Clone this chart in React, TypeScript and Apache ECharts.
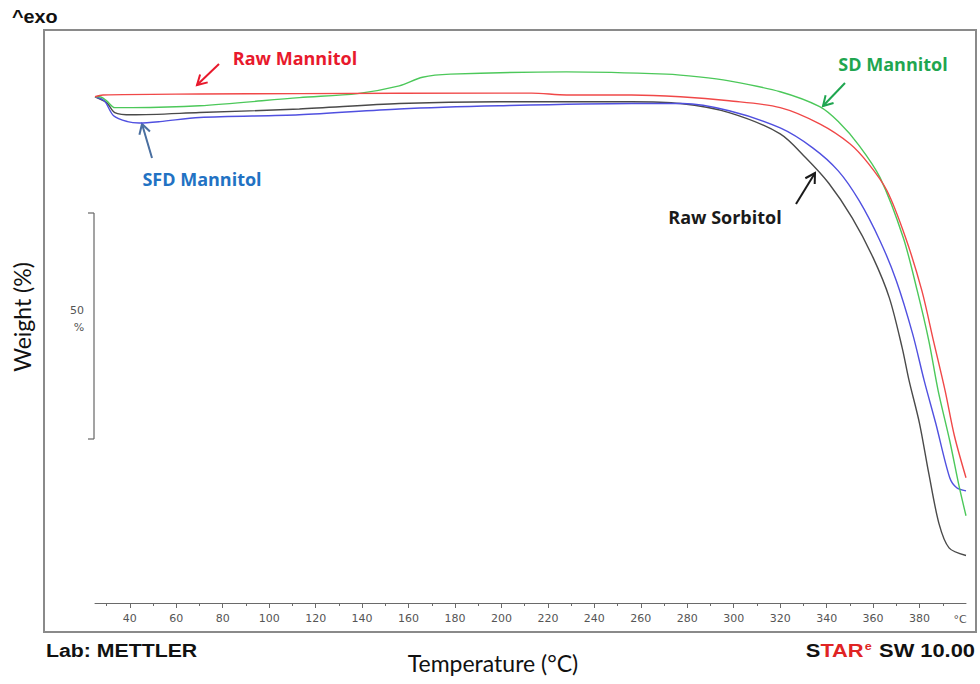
import React, { useEffect, useRef } from "react";
import * as echarts from "echarts";

// ---- data (temperature °C, weight %) ----
const rawMannitolT = [25, 28.4, 70, 113, 199, 213, 228, 256, 277, 298, 320, 337, 350, 358, 366, 374, 381, 386, 391, 395, 400];
const rawMannitolW = [100, 100.4, 100.6, 100.7, 100.8, 100.8, 100.4, 100.4, 100.0, 99.1, 97.6, 94.0, 89.6, 85.2, 79.2, 68.8, 57.1, 46.0, 35.0, 25.0, 15.7];

const sdMannitolT = [25, 27, 30, 33.5, 41, 70, 113, 138, 156, 166, 178, 228, 271, 285, 298, 320, 337, 345, 354, 363, 373, 379, 384, 388, 393, 397, 400];
const sdMannitolW = [100, 100, 99.1, 97.6, 97.6, 98.0, 99.8, 100.7, 102.4, 104.3, 105.0, 105.5, 105.0, 104.4, 103.5, 101.1, 97.8, 94.5, 89.2, 82.1, 68.8, 57.1, 46.0, 35.0, 23.9, 13.9, 7.3];

const sfdMannitolT = [25, 29, 33, 39, 44, 53, 70, 113, 156, 199, 256, 278, 298, 320, 334, 345, 354, 363, 370, 377, 382, 387, 393, 396, 400];
const sfdMannitolW = [100, 99.1, 95.8, 94.5, 94.2, 94.5, 95.4, 96.0, 97.3, 98.0, 98.5, 98.5, 96.9, 93.1, 88.7, 83.6, 77.0, 68.1, 59.3, 47.6, 37.2, 27.7, 15.7, 13.5, 12.8];

const rawSorbitolT = [25, 30, 33.5, 41, 70, 113, 156, 199, 256, 277, 298, 320, 331, 341, 351, 360, 367, 372.5, 375.5, 380, 384, 388.4, 392.7, 400];
const rawSorbitolW = [100, 98.7, 96.5, 96.0, 96.5, 97.3, 98.5, 98.9, 98.9, 98.5, 96.5, 91.8, 86.5, 80.8, 73.2, 64.4, 55.5, 44.5, 37.2, 27.7, 16.6, 5.5, 0.2, -1.5];

const majorTicks = [40, 60, 80, 100, 120, 140, 160, 180, 200, 220, 240, 260, 280, 300, 320, 340, 360, 380];
const minorTicks = [30, 50, 70, 90, 110, 130, 150, 170, 190, 210, 230, 250, 270, 290, 310, 330, 350, 370, 390];
const tickLabels = [40, 60, 80, 100, 120, 140, 160, 180, 200, 220, 240, 260, 280, 300, 320, 340, 360, 380];

const zip = (t: number[], w: number[]) => t.map((v, i) => [v, w[i]]);

function arrow(x1: number, y1: number, x2: number, y2: number, color: string) {
  const dx = x2 - x1, dy = y2 - y1;
  const len = Math.hypot(dx, dy);
  const bx = -dx / len, by = -dy / len;
  const hl = 11, a = Math.PI / 6;
  const c = Math.cos(a), s = Math.sin(a);
  const w1 = [x2 + hl * (bx * c - by * s), y2 + hl * (bx * s + by * c)];
  const w2 = [x2 + hl * (bx * c + by * s), y2 + hl * (-bx * s + by * c)];
  return [
    { type: "line", silent: true, shape: { x1, y1, x2, y2 }, style: { stroke: color, lineWidth: 2 } },
    { type: "polyline", silent: true, shape: { points: [w1, [x2, y2], w2] }, style: { stroke: color, lineWidth: 2, fill: null } },
  ];
}

export default function App() {
  const ref = useRef<HTMLDivElement>(null);
  useEffect(() => {
    if (!ref.current) return;
    const chart = echarts.init(ref.current, null, { renderer: "svg" });
    const lineSeries = (name: string, data: number[][], color: string) => ({
      name,
      type: "line",
      data,
      showSymbol: false,
      smooth: 0.3,
      lineStyle: { color, width: 1.4 },
      itemStyle: { color },
      silent: true,
    });
    const annFont = "'Open Sans', Lato, sans-serif";
    const titleFont = "Lato, 'Open Sans', sans-serif";
    const arial = "'Liberation Sans', Arial, sans-serif";
    chart.setOption({
      animation: false,
      backgroundColor: "#ffffff",
      grid: { left: 95, right: 14, top: 42.5, bottom: 81 },
      xAxis: [
        {
          type: "value",
          min: 25,
          max: 400,
          position: "bottom",
          axisLine: { show: true, onZero: false, lineStyle: { color: "#6a6a6a", width: 1 } },
          axisTick: { show: true, customValues: majorTicks, length: 5, lineStyle: { color: "#6a6a6a" } },
          axisLabel: {
            customValues: tickLabels,
            color: "#555",
            fontSize: 11,
            margin: 10,
            fontFamily: "'DejaVu Sans', sans-serif",
          },
          splitLine: { show: false },
        },
        {
          type: "value",
          min: 25,
          max: 400,
          position: "bottom",
          axisLine: { show: false, onZero: false },
          axisTick: { show: true, customValues: minorTicks, length: 3, lineStyle: { color: "#6a6a6a" } },
          axisLabel: { show: false },
          splitLine: { show: false },
        },
      ],
      yAxis: {
        type: "value",
        min: -12,
        max: 112,
        axisLine: { show: false },
        axisTick: { show: false },
        axisLabel: { show: false },
        splitLine: { show: false },
      },
      series: [
        lineSeries("Raw Sorbitol", zip(rawSorbitolT, rawSorbitolW), "#4a4a4a"),
        lineSeries("SFD Mannitol", zip(sfdMannitolT, sfdMannitolW), "#5050e0"),
        lineSeries("SD Mannitol", zip(sdMannitolT, sdMannitolW), "#4cc85a"),
        lineSeries("Raw Mannitol", zip(rawMannitolT, rawMannitolW), "#f04848"),
      ],
      graphic: [
        { type: "rect", silent: true, z: -1, shape: { x: 44, y: 30, width: 932, height: 602 }, style: { stroke: "#8a8a8a", lineWidth: 2, fill: null } },
        { type: "text", silent: true, x: 12, y: 17, scaleX: 1.1, style: { text: "^exo", font: "bold 18px " + arial, fill: "#111", verticalAlign: "middle", align: "left" } },
        // 50 % scale bar
        { type: "line", silent: true, shape: { x1: 94, y1: 213, x2: 94, y2: 439 }, style: { stroke: "#666", lineWidth: 1.2 } },
        { type: "line", silent: true, shape: { x1: 88, y1: 213, x2: 94, y2: 213 }, style: { stroke: "#666", lineWidth: 1.2 } },
        { type: "line", silent: true, shape: { x1: 88, y1: 439, x2: 94, y2: 439 }, style: { stroke: "#666", lineWidth: 1.2 } },
        { type: "text", silent: true, x: 77, y: 310, style: { text: "50", font: "11px 'DejaVu Sans', sans-serif", fill: "#555", align: "center", verticalAlign: "middle" } },
        { type: "text", silent: true, x: 79, y: 327, style: { text: "%", font: "11px 'DejaVu Sans', sans-serif", fill: "#555", align: "center", verticalAlign: "middle" } },
        { type: "text", silent: true, x: 960, y: 619, style: { text: "°C", font: "11px 'DejaVu Sans', sans-serif", fill: "#555", align: "center", verticalAlign: "middle" } },
        // axis titles
        { type: "text", silent: true, x: 493, y: 663, style: { text: "Temperature (°C)", font: "23px " + titleFont, fill: "#111", align: "center", verticalAlign: "middle" } },
        { type: "text", silent: true, x: 22, y: 317, rotation: Math.PI / 2, style: { text: "Weight (%)", font: "23px " + titleFont, fill: "#111", align: "center", verticalAlign: "middle" } },
        // footer
        { type: "text", silent: true, x: 46, y: 650, scaleX: 1.12, style: { text: "Lab: METTLER", font: "bold 19px " + arial, fill: "#111", align: "left", verticalAlign: "middle" } },
        {
          type: "text", silent: true, x: 975, y: 650, scaleX: 1.15,
          style: {
            text: "{k|S}{r|TAR}{s|e}{k| SW 10.00}",
            align: "right",
            verticalAlign: "middle",
            rich: {
              k: { font: "bold 19px " + arial, fill: "#111" },
              r: { font: "bold 19px " + arial, fill: "#e02424" },
              s: { font: "bold 11px " + arial, fill: "#e02424", verticalAlign: "top", padding: [0, 1, 8, 1] },
            },
          },
        },
        // annotations
        { type: "text", silent: true, x: 295, y: 58, style: { text: "Raw Mannitol", font: "bold 18px " + annFont, fill: "#e8192c", align: "center", verticalAlign: "middle" } },
        ...arrow(219, 64, 197, 85, "#e8192c"),
        { type: "text", silent: true, x: 893, y: 64, style: { text: "SD Mannitol", font: "bold 18px " + annFont, fill: "#1fa650", align: "center", verticalAlign: "middle" } },
        ...arrow(845, 83, 823, 106, "#1fa650"),
        { type: "text", silent: true, x: 202, y: 179, style: { text: "SFD Mannitol", font: "bold 18px " + annFont, fill: "#2272c3", align: "center", verticalAlign: "middle" } },
        ...arrow(152, 158, 142, 124, "#4a6fa0"),
        { type: "text", silent: true, x: 725, y: 217, style: { text: "Raw Sorbitol", font: "bold 18px " + annFont, fill: "#1a1a1a", align: "center", verticalAlign: "middle" } },
        ...arrow(796, 204, 815, 173, "#1a1a1a"),
      ],
    });
    return () => chart.dispose();
  }, []);
  return <div ref={ref} style={{ position: "fixed", left: 0, top: 0, width: 980, height: 684 }} />;
}
